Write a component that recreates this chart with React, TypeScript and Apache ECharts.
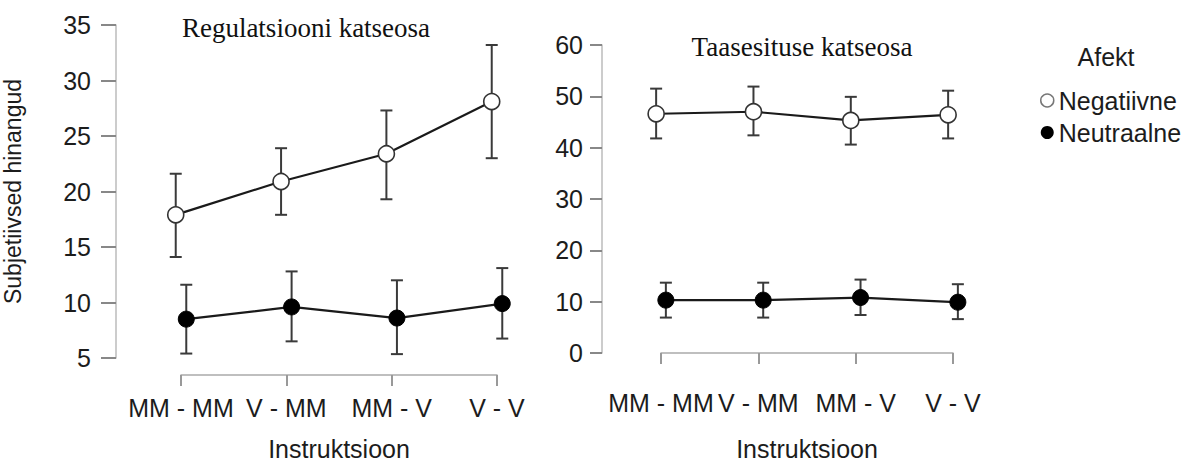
import React, { useEffect, useRef } from "react";
import * as echarts from "echarts";

const categories = ["MM - MM", "V - MM", "MM - V", "V - V"];
const seriesNames = ["Negatiivne", "Neutraalne"];

// Regulatsiooni katseosa
const regNegMean = [17.9, 20.9, 23.4, 28.1];
const regNegLow = [14.1, 17.9, 19.3, 23.0];
const regNegHigh = [21.6, 23.9, 27.3, 33.2];
const regNeuMean = [8.5, 9.6, 8.6, 9.9];
const regNeuLow = [5.4, 6.5, 5.35, 6.75];
const regNeuHigh = [11.6, 12.8, 12.0, 13.1];

// Taasesituse katseosa
const taaNegMean = [46.6, 47.0, 45.3, 46.4];
const taaNegLow = [41.8, 42.4, 40.6, 41.8];
const taaNegHigh = [51.5, 51.9, 49.9, 51.1];
const taaNeuMean = [10.3, 10.3, 10.8, 9.9];
const taaNeuLow = [6.9, 6.9, 7.4, 6.6];
const taaNeuHigh = [13.7, 13.7, 14.3, 13.4];

const dodge = 0.05;

const SANS = "Liberation Sans, Arial, sans-serif";
const SERIF = "Liberation Serif, Times New Roman, serif";
const FS = 25;
const TXT = "#1c1c1c";

export default function App() {
  const ref = useRef<HTMLDivElement>(null);

  useEffect(() => {
    document.body.style.margin = "0";
    const chart = echarts.init(ref.current!, null, { renderer: "svg" });

    const pts = (mean: number[], off: number) =>
      mean.map((v, i) => [i + 1 + off, v]);
    const errs = (lo: number[], hi: number[], off: number) =>
      lo.map((l, i) => [i + 1 + off, l, hi[i]]);

    const errRender = (params: any, api: any) => {
      const x = api.value(0);
      const p1 = api.coord([x, api.value(1)]);
      const p2 = api.coord([x, api.value(2)]);
      const cap = 6;
      const style = { stroke: "#3a3a3a", lineWidth: 2 };
      return {
        type: "group",
        children: [
          { type: "line", shape: { x1: p1[0], y1: p1[1], x2: p2[0], y2: p2[1] }, style },
          { type: "line", shape: { x1: p1[0] - cap, y1: p1[1], x2: p1[0] + cap, y2: p1[1] }, style },
          { type: "line", shape: { x1: p2[0] - cap, y1: p2[1], x2: p2[0] + cap, y2: p2[1] }, style },
        ],
      };
    };

    const lineSeries = (name: string, data: number[][], idx: number, open: boolean) => ({
      type: "line",
      name,
      data,
      xAxisIndex: idx,
      yAxisIndex: idx,
      clip: false,
      symbol: "circle",
      symbolSize: 16,
      z: 5,
      lineStyle: { color: "#1a1a1a", width: 2.2 },
      itemStyle: open
        ? { color: "#ffffff", borderColor: "#333333", borderWidth: 1.6 }
        : { color: "#000000", borderColor: "#000000", borderWidth: 1 },
    });

    const errSeries = (data: number[][], idx: number) => ({
      type: "custom",
      xAxisIndex: idx,
      yAxisIndex: idx,
      clip: false,
      z: 2,
      data,
      renderItem: errRender,
      silent: true,
    });

    const xAxis = (idx: number, margin: number, nameGap: number) => ({
      type: "value",
      gridIndex: idx,
      min: 1,
      max: 4,
      interval: 1,
      offset: 17,
      name: "Instruktsioon",
      nameLocation: "middle",
      nameGap,
      nameTextStyle: { fontFamily: SANS, fontSize: FS, color: TXT },
      axisLine: { show: true, lineStyle: { color: "#aaaaaa", width: 1.5 } },
      axisTick: { show: true, length: 11, lineStyle: { color: "#999999", width: 2 } },
      axisLabel: {
        margin,
        fontFamily: SANS,
        fontSize: FS,
        color: TXT,
        formatter: (v: number) => categories[Math.round(v) - 1] ?? "",
      },
      splitLine: { show: false },
    });

    const yAxis = (idx: number, min: number, max: number, interval: number, offset: number, tick: number, margin: number, name?: string) => ({
      type: "value",
      gridIndex: idx,
      min,
      max,
      interval,
      offset,
      name,
      nameLocation: "middle",
      nameGap: 92,
      nameRotate: 90,
      nameTextStyle: { fontFamily: SANS, fontSize: 23, color: TXT },
      axisLine: { show: true, lineStyle: { color: "#bbbbbb", width: 1.5 } },
      axisTick: { show: true, length: tick, lineStyle: { color: "#888888", width: 2 } },
      axisLabel: { margin, fontFamily: SANS, fontSize: FS, color: TXT },
      splitLine: { show: false },
    });

    chart.setOption({
      animation: false,
      backgroundColor: "#ffffff",
      grid: [
        { left: 177, top: 25, width: 320, height: 343 },
        { left: 661, top: 45, width: 292, height: 310 },
      ],
      xAxis: [xAxis(0, 20, 61), xAxis(1, 20, 66)],
      yAxis: [
        yAxis(0, 5, 35, 5, 65, 15, 25, "Subjetiivsed hinangud"),
        yAxis(1, 0, 60, 10, 59, 12, 19),
      ],
      legend: {
        orient: "vertical",
        left: 1035,
        top: 82,
        itemWidth: 13,
        itemHeight: 13,
        itemGap: 5,
        selectedMode: false,
        textStyle: { fontFamily: SANS, fontSize: FS, color: TXT, lineHeight: 27 },
        data: [
          { name: seriesNames[0], icon: "circle", itemStyle: { color: "#ffffff", borderColor: "#777777", borderWidth: 1.5 } },
          { name: seriesNames[1], icon: "circle", itemStyle: { color: "#000000", borderWidth: 0 } },
        ],
      },
      graphic: [
        {
          type: "text",
          x: 306,
          y: 28,
          style: { text: "Regulatsiooni katseosa", fontFamily: SERIF, fontSize: 27, fill: "#111", align: "center", verticalAlign: "middle" },
        },
        {
          type: "text",
          x: 802,
          y: 47,
          style: { text: "Taasesituse katseosa", fontFamily: SERIF, fontSize: 27, fill: "#111", align: "center", verticalAlign: "middle" },
        },
        {
          type: "text",
          x: 1106,
          y: 57,
          style: { text: "Afekt", fontFamily: SANS, fontSize: FS, fill: TXT, align: "center", verticalAlign: "middle" },
        },
      ],
      series: [
        errSeries(errs(regNegLow, regNegHigh, -dodge), 0),
        errSeries(errs(regNeuLow, regNeuHigh, dodge), 0),
        lineSeries(seriesNames[0], pts(regNegMean, -dodge), 0, true),
        lineSeries(seriesNames[1], pts(regNeuMean, dodge), 0, false),
        errSeries(errs(taaNegLow, taaNegHigh, -dodge), 1),
        errSeries(errs(taaNeuLow, taaNeuHigh, dodge), 1),
        lineSeries(seriesNames[0], pts(taaNegMean, -dodge), 1, true),
        lineSeries(seriesNames[1], pts(taaNeuMean, dodge), 1, false),
      ],
    });

    return () => chart.dispose();
  }, []);

  return <div ref={ref} style={{ width: 1183, height: 466 }} />;
}
